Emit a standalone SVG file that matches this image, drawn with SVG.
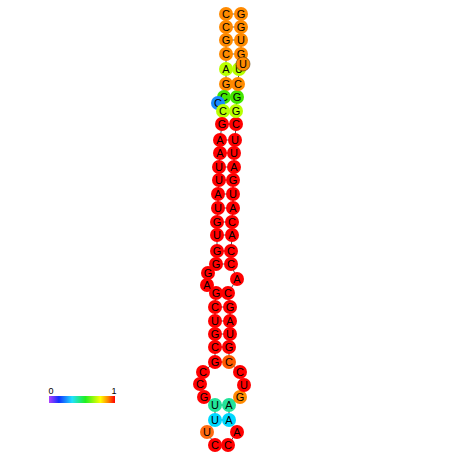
<svg xmlns="http://www.w3.org/2000/svg" width="452" height="452" viewBox="0 0 452 452">
<style>
.bb{fill:none;stroke:#222;stroke-width:0.8}
.bp{stroke:#333;stroke-width:0.8}
.n circle{stroke:none}
.n text{font-family:"Liberation Sans",Arial,sans-serif;font-size:11px;fill:#000;text-anchor:middle;dominant-baseline:central}
.r{fill:#ff0000}.o{fill:#ff8a00}.yg{fill:#b8ff00}.g{fill:#44e600}.b{fill:#1a8cff}.t{fill:#22e39a}.c{fill:#00d8ff}.or{fill:#ff5a00}.og{fill:#ff6a10}
.lg{font-family:"Liberation Sans",Arial,sans-serif;font-size:9px;fill:#000}
</style>
<defs>
<linearGradient id="grad" x1="0" x2="1" y1="0" y2="0">
<stop offset="0" stop-color="#b040ff"/>
<stop offset="0.15" stop-color="#1030ff"/>
<stop offset="0.35" stop-color="#20e0ff"/>
<stop offset="0.55" stop-color="#20f020"/>
<stop offset="0.78" stop-color="#ffff00"/>
<stop offset="0.9" stop-color="#ff8000"/>
<stop offset="1" stop-color="#ff0000"/>
</linearGradient>
</defs>
<g id="connectors">
<polyline class="bb" points="226,14 226,27 226,40 226,54 226,69 226,84 224,97 218,103 223,111 222,124 220,140 220,153 219,167 219,180 218,194 218,208 217,222 217,235 217,251 216,264 208,273 207,285 216,293 215,307 215,321 215,334 215,347 215,362 203,372 200,384 204,397 215,405 215,420 207,432 215,445 228,445 237,432 229,420 229,405 240,397 244,385 240,372 229,362 229,347 230,334 230,321 230,307 228,293 237,279 231,264 231,251 232,235 232,222 233,208 233,194 233,180 234,167 234,153 235,140 236,124 236,111 237,97 238,84 239,69 243,64 241,54 241,40 241,27 241,14"/>
<line class="bp" x1="226" y1="14" x2="241" y2="14"/>
<line class="bp" x1="226" y1="27" x2="241" y2="27"/>
<line class="bp" x1="226" y1="40" x2="241" y2="40"/>
<line class="bp" x1="226" y1="54" x2="241" y2="54"/>
<line class="bp" x1="226" y1="69" x2="239" y2="69"/>
<line class="bp" x1="226" y1="84" x2="238" y2="84"/>
<line class="bp" x1="224" y1="97" x2="237" y2="97"/>
<line class="bp" x1="223" y1="111" x2="236" y2="111"/>
<line class="bp" x1="222" y1="124" x2="236" y2="124"/>
<line class="bp" x1="220" y1="140" x2="235" y2="140"/>
<line class="bp" x1="220" y1="153" x2="234" y2="153"/>
<line class="bp" x1="219" y1="167" x2="234" y2="167"/>
<line class="bp" x1="219" y1="180" x2="233" y2="180"/>
<line class="bp" x1="218" y1="194" x2="233" y2="194"/>
<line class="bp" x1="218" y1="208" x2="233" y2="208"/>
<line class="bp" x1="217" y1="222" x2="232" y2="222"/>
<line class="bp" x1="217" y1="235" x2="232" y2="235"/>
<line class="bp" x1="217" y1="251" x2="231" y2="251"/>
<line class="bp" x1="216" y1="264" x2="231" y2="264"/>
<line class="bp" x1="216" y1="293" x2="228" y2="293"/>
<line class="bp" x1="215" y1="307" x2="230" y2="307"/>
<line class="bp" x1="215" y1="321" x2="230" y2="321"/>
<line class="bp" x1="215" y1="334" x2="230" y2="334"/>
<line class="bp" x1="215" y1="347" x2="229" y2="347"/>
<line class="bp" x1="215" y1="362" x2="229" y2="362"/>
<line class="bp" x1="215" y1="405" x2="229" y2="405"/>
<line class="bp" x1="215" y1="420" x2="229" y2="420"/>
</g>
<g id="nodes">
<g id="n1" class="n"><circle class="o" cx="226" cy="14" r="7"/><text x="226" y="14">C</text></g>
<g id="n2" class="n"><circle class="o" cx="226" cy="27" r="7"/><text x="226" y="27">C</text></g>
<g id="n3" class="n"><circle class="o" cx="226" cy="40" r="7"/><text x="226" y="40">G</text></g>
<g id="n4" class="n"><circle class="o" cx="226" cy="54" r="7"/><text x="226" y="54">C</text></g>
<g id="n5" class="n"><circle class="yg" cx="226" cy="69" r="7"/><text x="226" y="69">A</text></g>
<g id="n6" class="n"><circle class="o" cx="226" cy="84" r="7"/><text x="226" y="84">G</text></g>
<g id="n7" class="n"><circle class="g" cx="224" cy="97" r="7"/><text x="224" y="97">C</text></g>
<g id="n8" class="n"><circle class="b" cx="218" cy="103" r="7"/><text x="218" y="103">C</text></g>
<g id="n9" class="n"><circle class="yg" cx="223" cy="111" r="7"/><text x="223" y="111">C</text></g>
<g id="n10" class="n"><circle class="r" cx="222" cy="124" r="7"/><text x="222" y="124">G</text></g>
<g id="n11" class="n"><circle class="r" cx="220" cy="140" r="7"/><text x="220" y="140">A</text></g>
<g id="n12" class="n"><circle class="r" cx="220" cy="153" r="7"/><text x="220" y="153">A</text></g>
<g id="n13" class="n"><circle class="r" cx="219" cy="167" r="7"/><text x="219" y="167">U</text></g>
<g id="n14" class="n"><circle class="r" cx="219" cy="180" r="7"/><text x="219" y="180">U</text></g>
<g id="n15" class="n"><circle class="r" cx="218" cy="194" r="7"/><text x="218" y="194">A</text></g>
<g id="n16" class="n"><circle class="r" cx="218" cy="208" r="7"/><text x="218" y="208">U</text></g>
<g id="n17" class="n"><circle class="r" cx="217" cy="222" r="7"/><text x="217" y="222">G</text></g>
<g id="n18" class="n"><circle class="r" cx="217" cy="235" r="7"/><text x="217" y="235">U</text></g>
<g id="n19" class="n"><circle class="r" cx="217" cy="251" r="7"/><text x="217" y="251">G</text></g>
<g id="n20" class="n"><circle class="r" cx="216" cy="264" r="7"/><text x="216" y="264">G</text></g>
<g id="n21" class="n"><circle class="r" cx="208" cy="273" r="7"/><text x="208" y="273">G</text></g>
<g id="n22" class="n"><circle class="r" cx="207" cy="285" r="7"/><text x="207" y="285">A</text></g>
<g id="n23" class="n"><circle class="r" cx="216" cy="293" r="7"/><text x="216" y="293">G</text></g>
<g id="n24" class="n"><circle class="r" cx="215" cy="307" r="7"/><text x="215" y="307">C</text></g>
<g id="n25" class="n"><circle class="r" cx="215" cy="321" r="7"/><text x="215" y="321">U</text></g>
<g id="n26" class="n"><circle class="r" cx="215" cy="334" r="7"/><text x="215" y="334">G</text></g>
<g id="n27" class="n"><circle class="r" cx="215" cy="347" r="7"/><text x="215" y="347">C</text></g>
<g id="n28" class="n"><circle class="r" cx="215" cy="362" r="7"/><text x="215" y="362">G</text></g>
<g id="n29" class="n"><circle class="r" cx="203" cy="372" r="7"/><text x="203" y="372">C</text></g>
<g id="n30" class="n"><circle class="r" cx="200" cy="384" r="7"/><text x="200" y="384">C</text></g>
<g id="n31" class="n"><circle class="r" cx="204" cy="397" r="7"/><text x="204" y="397">G</text></g>
<g id="n32" class="n"><circle class="t" cx="215" cy="405" r="7"/><text x="215" y="405">U</text></g>
<g id="n33" class="n"><circle class="c" cx="215" cy="420" r="7"/><text x="215" y="420">U</text></g>
<g id="n34" class="n"><circle class="og" cx="207" cy="432" r="7"/><text x="207" y="432">U</text></g>
<g id="n35" class="n"><circle class="r" cx="215" cy="445" r="7"/><text x="215" y="445">C</text></g>
<g id="n36" class="n"><circle class="r" cx="228" cy="445" r="7"/><text x="228" y="445">C</text></g>
<g id="n37" class="n"><circle class="r" cx="237" cy="432" r="7"/><text x="237" y="432">A</text></g>
<g id="n38" class="n"><circle class="c" cx="229" cy="420" r="7"/><text x="229" y="420">A</text></g>
<g id="n39" class="n"><circle class="t" cx="229" cy="405" r="7"/><text x="229" y="405">A</text></g>
<g id="n40" class="n"><circle class="o" cx="240" cy="397" r="7"/><text x="240" y="397">G</text></g>
<g id="n41" class="n"><circle class="r" cx="244" cy="385" r="7"/><text x="244" y="385">U</text></g>
<g id="n42" class="n"><circle class="r" cx="240" cy="372" r="7"/><text x="240" y="372">C</text></g>
<g id="n43" class="n"><circle class="or" cx="229" cy="362" r="7"/><text x="229" y="362">C</text></g>
<g id="n44" class="n"><circle class="r" cx="229" cy="347" r="7"/><text x="229" y="347">G</text></g>
<g id="n45" class="n"><circle class="r" cx="230" cy="334" r="7"/><text x="230" y="334">U</text></g>
<g id="n46" class="n"><circle class="r" cx="230" cy="321" r="7"/><text x="230" y="321">A</text></g>
<g id="n47" class="n"><circle class="r" cx="230" cy="307" r="7"/><text x="230" y="307">G</text></g>
<g id="n48" class="n"><circle class="r" cx="228" cy="293" r="7"/><text x="228" y="293">C</text></g>
<g id="n49" class="n"><circle class="r" cx="237" cy="279" r="7"/><text x="237" y="279">A</text></g>
<g id="n50" class="n"><circle class="r" cx="231" cy="264" r="7"/><text x="231" y="264">C</text></g>
<g id="n51" class="n"><circle class="r" cx="231" cy="251" r="7"/><text x="231" y="251">C</text></g>
<g id="n52" class="n"><circle class="r" cx="232" cy="235" r="7"/><text x="232" y="235">A</text></g>
<g id="n53" class="n"><circle class="r" cx="232" cy="222" r="7"/><text x="232" y="222">C</text></g>
<g id="n54" class="n"><circle class="r" cx="233" cy="208" r="7"/><text x="233" y="208">A</text></g>
<g id="n55" class="n"><circle class="r" cx="233" cy="194" r="7"/><text x="233" y="194">U</text></g>
<g id="n56" class="n"><circle class="r" cx="233" cy="180" r="7"/><text x="233" y="180">G</text></g>
<g id="n57" class="n"><circle class="r" cx="234" cy="167" r="7"/><text x="234" y="167">A</text></g>
<g id="n58" class="n"><circle class="r" cx="234" cy="153" r="7"/><text x="234" y="153">U</text></g>
<g id="n59" class="n"><circle class="r" cx="235" cy="140" r="7"/><text x="235" y="140">U</text></g>
<g id="n60" class="n"><circle class="r" cx="236" cy="124" r="7"/><text x="236" y="124">C</text></g>
<g id="n61" class="n"><circle class="yg" cx="236" cy="111" r="7"/><text x="236" y="111">G</text></g>
<g id="n62" class="n"><circle class="g" cx="237" cy="97" r="7"/><text x="237" y="97">G</text></g>
<g id="n63" class="n"><circle class="o" cx="238" cy="84" r="7"/><text x="238" y="84">C</text></g>
<g id="n64" class="n"><circle class="yg" cx="239" cy="69" r="7"/><text x="239" y="69">U</text></g>
<g id="n66" class="n"><circle class="o" cx="241" cy="54" r="7"/><text x="241" y="54">G</text></g>
<g id="n65" class="n"><circle class="o" cx="243" cy="64" r="7" style="stroke:#553300;stroke-width:0.6"/><text x="243" y="64">U</text></g>
<g id="n67" class="n"><circle class="o" cx="241" cy="40" r="7"/><text x="241" y="40">U</text></g>
<g id="n68" class="n"><circle class="o" cx="241" cy="27" r="7"/><text x="241" y="27">G</text></g>
<g id="n69" class="n"><circle class="o" cx="241" cy="14" r="7"/><text x="241" y="14">G</text></g>
</g>
<g id="legend">
<rect x="49" y="396" width="66" height="7" fill="url(#grad)"/>
<text class="lg" x="51" y="394" text-anchor="middle">0</text>
<text class="lg" x="114" y="394" text-anchor="middle">1</text>
</g>
</svg>
